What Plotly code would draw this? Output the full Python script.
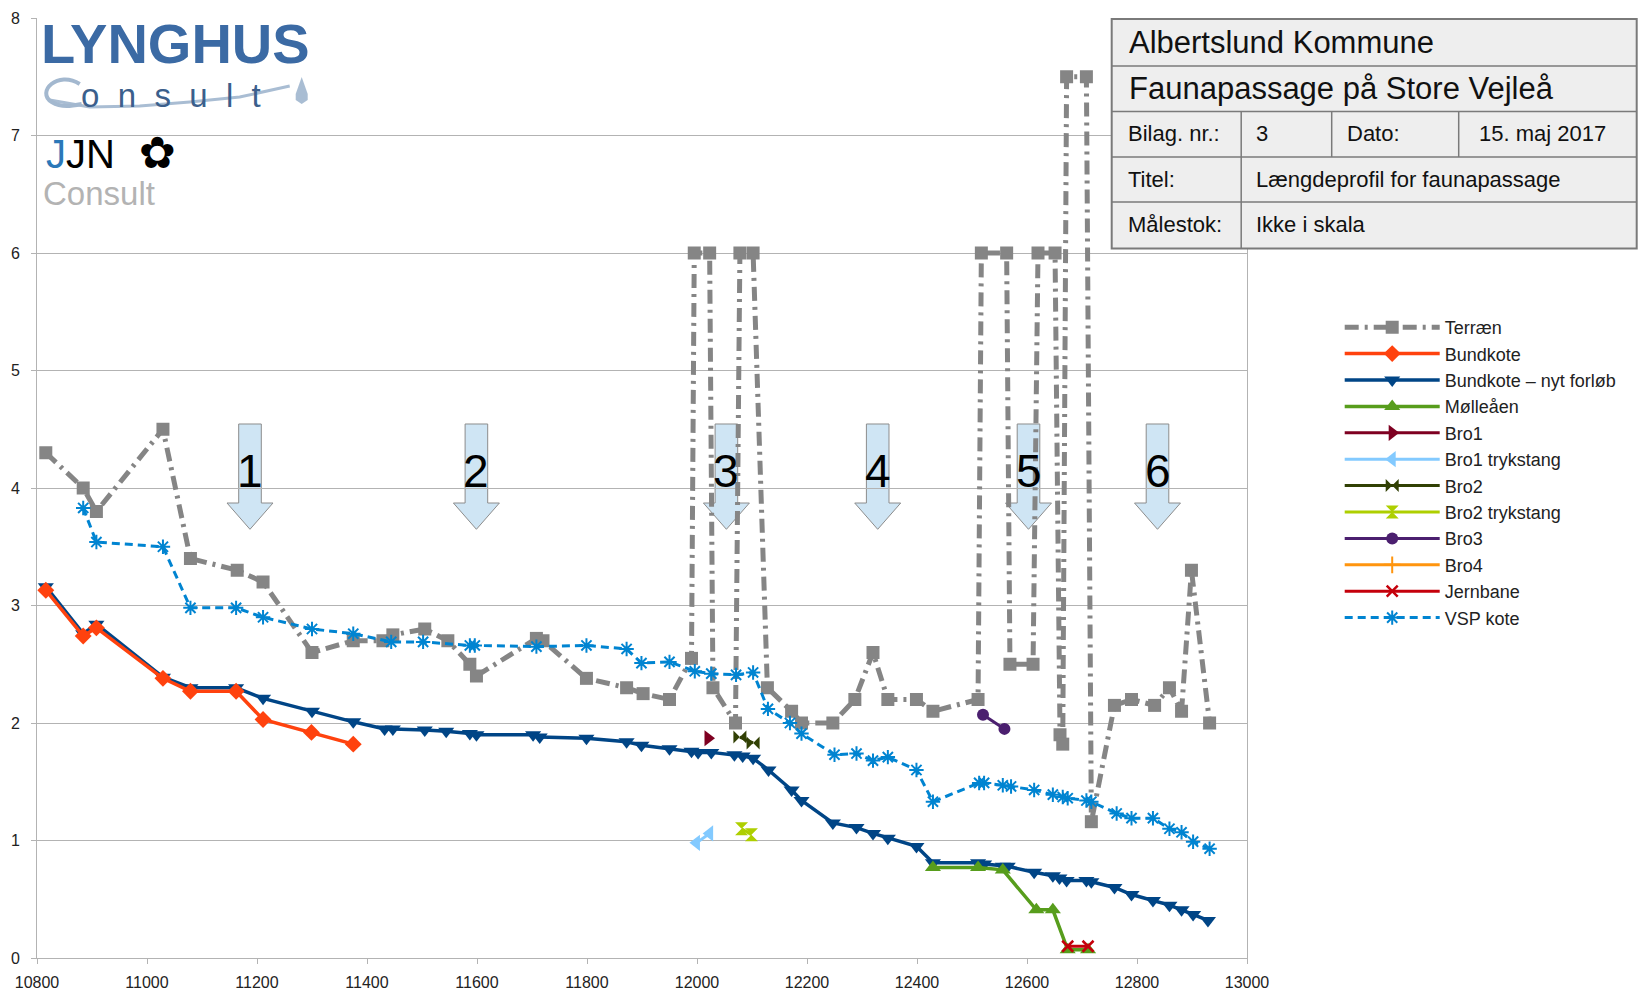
import plotly.graph_objects as go

# ---------------- data ----------------
terr_x = [10816, 10884, 10908, 11029, 11079, 11164, 11211, 11300, 11375, 11429, 11447, 11505, 11547, 11587,
          11599, 11708, 11720, 11799, 11872, 11902, 11950, 11990, 11995, 12023, 12029, 12070, 12078, 12102,
          12128, 12172, 12190, 12247, 12287, 12320, 12347, 12399, 12429, 12511, 12517, 12563, 12569, 12611,
          12620, 12651, 12660, 12665, 12672, 12708, 12717, 12759, 12790, 12832, 12859, 12881, 12899, 12932]
terr_y = [4.3, 4.0, 3.8, 4.5, 3.4, 3.3, 3.2, 2.6, 2.7, 2.7, 2.75, 2.8, 2.7, 2.5,
          2.4, 2.72, 2.7, 2.38, 2.3, 2.25, 2.2, 2.55, 6.0, 6.0, 2.3, 2.0, 6.0, 6.0,
          2.3, 2.1, 2.0, 2.0, 2.2, 2.6, 2.2, 2.2, 2.1, 2.2, 6.0, 6.0, 2.5, 2.5,
          6.0, 6.0, 1.9, 1.82, 7.5, 7.5, 1.16, 2.15, 2.2, 2.15, 2.3, 2.1, 3.3, 2.0]

bund_x = [10816, 10884, 10908, 11029, 11079, 11162, 11211, 11299, 11375]
bund_y = [3.13, 2.74, 2.81, 2.38, 2.27, 2.27, 2.03, 1.92, 1.82]

nyt_x = [10816, 10884, 10908, 11029, 11079, 11162, 11211, 11300, 11375, 11432, 11447, 11505, 11544, 11587,
         11599, 11702, 11714, 11799, 11872, 11899, 11950, 11990, 12002, 12026, 12068, 12083, 12102, 12130,
         12172, 12190, 12247, 12290, 12320, 12347, 12399, 12429, 12511, 12522, 12556, 12565, 12613, 12647,
         12659, 12672, 12708, 12717, 12759, 12790, 12829, 12859, 12881, 12902, 12929]
nyt_y = [3.16, 2.76, 2.84, 2.39, 2.30, 2.30, 2.21, 2.10, 2.01, 1.95, 1.95, 1.94, 1.93, 1.91,
         1.90, 1.90, 1.88, 1.87, 1.84, 1.81, 1.78, 1.76, 1.75, 1.75, 1.73, 1.72, 1.70, 1.60,
         1.43, 1.34, 1.15, 1.11, 1.06, 1.02, 0.95, 0.81, 0.81, 0.80, 0.78, 0.78, 0.73, 0.70,
         0.68, 0.66, 0.66, 0.65, 0.60, 0.54, 0.49, 0.45, 0.41, 0.37, 0.32]

moelle_x = [12429, 12511, 12556, 12617, 12647, 12674, 12711]
moelle_y = [0.77, 0.77, 0.75, 0.41, 0.41, 0.07, 0.07]

bro1_x = [12020]
bro1_y = [1.87]
bro1t_x = [11999, 12023]
bro1t_y = [0.98, 1.06]
bro2_x = [12078, 12102]
bro2_y = [1.88, 1.83]
bro2t_x = [12081, 12099]
bro2t_y = [1.10, 1.05]
bro3_x = [12520, 12559]
bro3_y = [2.07, 1.95]
bro4_x = [None]   # Bro4 has no plotted values, only its legend entry
bro4_y = [None]
jern_x = [12674, 12711]
jern_y = [0.10, 0.10]

vsp_x = [10884, 10908, 11029, 11079, 11162, 11211, 11300, 11375, 11444, 11502, 11587, 11596, 11708, 11799,
         11872, 11899, 11950, 11996, 12026, 12071, 12102, 12129, 12169, 12190, 12250, 12290, 12320, 12347,
         12399, 12429, 12513, 12522, 12556, 12571, 12613, 12647, 12665, 12674, 12708, 12717, 12763, 12790,
         12829, 12859, 12881, 12902, 12932]
vsp_y = [3.83, 3.54, 3.50, 2.98, 2.98, 2.90, 2.80, 2.76, 2.69, 2.69, 2.66, 2.66, 2.65, 2.66,
         2.63, 2.51, 2.52, 2.44, 2.42, 2.41, 2.43, 2.12, 2.00, 1.91, 1.73, 1.74, 1.68, 1.71,
         1.60, 1.33, 1.49, 1.49, 1.47, 1.46, 1.43, 1.39, 1.37, 1.36, 1.34, 1.33, 1.23, 1.19,
         1.19, 1.10, 1.07, 0.99, 0.93]

x_ticks = list(range(10800, 13001, 200))
y_ticks = list(range(0, 9))

arrow_labels = ["1", "2", "3", "4", "5", "6"]
arrow_px = [250.3, 476.7, 726.7, 878.0, 1028.8, 1157.8]

FONT = "Liberation Sans, Arial, sans-serif"

# ---------------- helpers (pixel -> paper) ----------------
X0, X1, Y0, Y1 = 37.3, 1247.3, 958.0, 18.0


def px(x):
    return (x - X0) / (X1 - X0)


def py(y):
    return (Y0 - y) / (Y0 - Y1)


def pt(a, b):
    return f"{px(a):.5f},{py(b):.5f}"


def path(points, close=True):
    s = "M " + " L ".join(pt(a, b) for a, b in points)
    return s + (" Z" if close else "")


fig = go.Figure()


def add(x, y, name, color, symbol, size, rank, width=3, dash="solid", mline=None):
    marker = dict(symbol=symbol, size=size, color=color)
    if mline:
        marker["line"] = dict(width=mline, color=color)
    fig.add_trace(go.Scatter(
        x=x, y=y, name=name, mode="lines+markers",
        line=dict(color=color, width=width, dash=dash),
        marker=marker, legendrank=rank, legendgroup=name,
    ))


add(terr_x, terr_y, "Terræn", "#858585", "square", 13, 1, width=5, dash="14px,6px,3px,6px")
add(nyt_x, nyt_y, "Bundkote – nyt forløb", "#004586", "triangle-down", 14, 3, width=3.5)
add(bund_x, bund_y, "Bundkote", "#ff420e", "diamond", 13, 2, width=3.5)
add(moelle_x, moelle_y, "Mølleåen", "#579d1c", "triangle-up", 14, 4, width=3.5)
add(bro1_x, bro1_y, "Bro1", "#7e0021", "triangle-right", 14, 5)
add(bro1t_x, bro1t_y, "Bro1 trykstang", "#83caff", "triangle-left", 14, 6)
add(bro2_x, bro2_y, "Bro2", "#314004", "bowtie", 13, 7)
add(bro2t_x, bro2t_y, "Bro2 trykstang", "#aecf00", "hourglass", 13, 8)
add(bro3_x, bro3_y, "Bro3", "#4b1f6f", "circle", 12, 9)
add(bro4_x, bro4_y, "Bro4", "#ff950e", "cross-thin", 12, 10, mline=2)
add(jern_x, jern_y, "Jernbane", "#c5000b", "x-thin", 11, 11, mline=2.5)
add(vsp_x, vsp_y, "VSP kote", "#0084d1", "asterisk", 12, 12, width=3, dash="8px,5px", mline=2)

shapes = []
annotations = []

# arrows
for cx in arrow_px:
    pts = [(cx - 11.3, 424), (cx + 11.3, 424), (cx + 11.3, 503), (cx + 23, 503), (cx, 529.3),
           (cx - 23, 503), (cx - 11.3, 503)]
    shapes.append(dict(type="path", xref="paper", yref="paper", path=path(pts),
                       fillcolor="#cfe5f4", line=dict(color="#8c8c8c", width=1), layer="between"))
for lab, cx in zip(arrow_labels, arrow_px):
    annotations.append(dict(xref="paper", yref="paper", x=px(cx), y=py(471), text=lab, showarrow=False,
                            xanchor="center", yanchor="middle", font=dict(family=FONT, size=46, color="#000000")))

# logo area background
shapes.append(dict(type="rect", xref="paper", yref="paper", x0=px(38.5), x1=px(255), y0=py(22), y1=py(232),
                   fillcolor="white", line=dict(width=0), layer="between"))
annotations.append(dict(xref="paper", yref="paper", x=px(39), y=py(44), text="<b>LYNGHUS</b>", showarrow=False,
                        xanchor="left", yanchor="middle", font=dict(family=FONT, size=56, color="#3b6aa4")))
# consult swoosh and swirl "C" (drawn as shapes)
shapes.append(dict(type="path", xref="paper", yref="paper",
                   path=path([(50, 100), (90, 107), (140, 106), (190, 102), (240, 97), (290, 86)], close=False),
                   line=dict(color="#a9bdd3", width=3), layer="above"))
shapes.append(dict(type="path", xref="paper", yref="paper",
                   path=f"M {pt(80, 84)} C {pt(58, 70)} {pt(36, 92)} {pt(52, 102)} C {pt(62, 108)} {pt(72, 106)} {pt(82, 104)}",
                   line=dict(color="#a3b8cf", width=4), layer="above"))
sp = "\u00a0\u00a0"
annotations.append(dict(xref="paper", yref="paper", x=px(79), y=py(95), text=sp.join("onsult"), showarrow=False,
                        xanchor="left", yanchor="middle", font=dict(family=FONT, size=33, color="#3b5f8c")))
shapes.append(dict(type="path", xref="paper", yref="paper",
                   path=path([(302, 77), (296, 94), (296, 100), (302, 104), (308, 100), (308, 94)]),
                   fillcolor="#a9bdd3", line=dict(width=0), layer="above"))
annotations.append(dict(xref="paper", yref="paper", x=px(44), y=py(154),
                        text="<span style='color:#2b78b8'>J</span>JN", showarrow=False,
                        xanchor="left", yanchor="middle", font=dict(family=FONT, size=40, color="#000000")))
annotations.append(dict(xref="paper", yref="paper", x=px(158), y=py(152), text="✿", showarrow=False,
                        xanchor="center", yanchor="middle", font=dict(family="DejaVu Sans", size=44, color="#000000")))
annotations.append(dict(xref="paper", yref="paper", x=px(41), y=py(193), text="Consult", showarrow=False,
                        xanchor="left", yanchor="middle", font=dict(family=FONT, size=33, color="#b3b3b3")))

# title block
BL, BR, BT, BB = 1112, 1637, 19, 248.5
rows = [66, 111.5, 157, 202]
shapes.append(dict(type="rect", xref="paper", yref="paper", x0=px(BL), x1=px(BR), y0=py(BB), y1=py(BT),
                   fillcolor="#eeeeee", line=dict(color="#7a7a7a", width=2), layer="above"))
for r in rows:
    shapes.append(dict(type="line", xref="paper", yref="paper", x0=px(BL), x1=px(BR), y0=py(r), y1=py(r),
                       line=dict(color="#7a7a7a", width=1.5), layer="above"))
shapes.append(dict(type="line", xref="paper", yref="paper", x0=px(1241.5), x1=px(1241.5), y0=py(111.5), y1=py(BB),
                   line=dict(color="#7a7a7a", width=1.5), layer="above"))
for cxl in (1332, 1459):
    shapes.append(dict(type="line", xref="paper", yref="paper", x0=px(cxl), x1=px(cxl), y0=py(111.5), y1=py(157),
                       line=dict(color="#7a7a7a", width=1.5), layer="above"))

box_texts = [
    ("Albertslund Kommune", 1127, 42.5, 31),
    ("Faunapassage på Store Vejleå", 1127, 88.5, 31),
    ("Bilag. nr.:", 1126, 134, 22),
    ("3", 1254, 134, 22),
    ("Dato:", 1345, 134, 22),
    ("15. maj 2017", 1477, 134, 22),
    ("Titel:", 1126, 179.5, 22),
    ("Længdeprofil for faunapassage", 1254, 179.5, 22),
    ("Målestok:", 1126, 225, 22),
    ("Ikke i skala", 1254, 225, 22),
]
for t, x, y, s in box_texts:
    annotations.append(dict(xref="paper", yref="paper", x=px(x), y=py(y), text=t, showarrow=False,
                            xanchor="left", yanchor="middle", font=dict(family=FONT, size=s, color="#111111")))

fig.update_layout(
    width=1639, height=992,
    margin=dict(l=37, r=392, t=18, b=34, autoexpand=False),
    paper_bgcolor="white", plot_bgcolor="white",
    font=dict(family=FONT, size=15, color="#222222"),
    shapes=shapes, annotations=annotations,
    showlegend=True,
    legend=dict(x=px(1340), y=py(309), xanchor="left", yanchor="top", itemwidth=95,
                traceorder="grouped", tracegroupgap=0, bgcolor="rgba(0,0,0,0)",
                font=dict(family=FONT, size=18, color="#222222")),
)
fig.update_xaxes(range=[10800, 13000], tickvals=x_ticks, tickformat="d", showgrid=False, showline=True,
                 linecolor="#b3b3b3", linewidth=1, ticks="outside", ticklen=5, tickcolor="#b3b3b3",
                 zeroline=False, automargin=False, ticklabelstandoff=5,
                 tickfont=dict(family=FONT, size=16, color="#222222"))
fig.update_yaxes(range=[0, 8], tickvals=y_ticks, showgrid=True, gridcolor="#b3b3b3", gridwidth=1,
                 showline=True, mirror=True, linecolor="#b3b3b3", linewidth=1, ticks="outside", ticklen=5,
                 tickcolor="#b3b3b3", zeroline=False, automargin=False, ticklabelstandoff=8,
                 tickfont=dict(family=FONT, size=16, color="#222222"))

fig.write_html("out.html", config={"displayModeBar": False},
               post_script="document.body.style.margin='0';")
